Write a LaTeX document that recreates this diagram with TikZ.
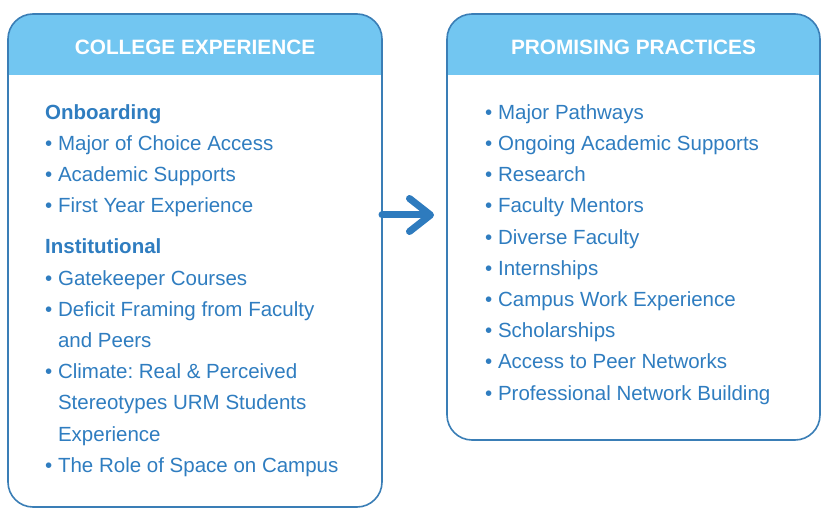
\documentclass[tikz,border=0pt]{standalone}
\usepackage{fontspec}
\setmainfont{Liberation Sans}
\usetikzlibrary{arrows.meta, positioning}

\definecolor{headblue}{HTML}{72C6F1}
\definecolor{frameblue}{HTML}{3A7EB6}
\definecolor{itemblue}{HTML}{2F7DC0}
\definecolor{arrowblue}{HTML}{2E7BBE}

% bullet and the hanging indent of wrapped lines
\newcommand{\itm}{\textbullet\ }
\newcommand{\cont}{\phantom{\textbullet\ }}
\frenchspacing

\begin{document}
\begin{tikzpicture}[
    x=1pt, y=1pt,
    panel/.style={draw=frameblue, line width=1.6pt, fill=white,
                  rounded corners=25pt, inner sep=0pt, outer sep=0pt,
                  path picture={\fill[headblue, sharp corners]
                    (path picture bounding box.north west) rectangle
                    ([yshift=-61pt]path picture bounding box.north east);}},
    headtext/.style={text=white, inner sep=0pt,
                     font=\fontsize{20.8}{24}\selectfont\bfseries},
    itemlist/.style={text=itemblue, align=left, inner sep=0pt,
                     anchor=north west, font=\fontsize{20.5}{31.2}\selectfont},
    flow/.style={draw=arrowblue, line width=7pt, line cap=round,
                 -{Straight Barb[length=21pt, width=33pt, round]}}
  ]
  \useasboundingbox (0,0) rectangle (836,-516);

  % the two panels
  \node[panel, minimum width=374pt, minimum height=493pt] (college) at (195,-260.5) {};
  \node[panel, minimum width=373pt, minimum height=426pt] (practices) at (633.5,-227) {};

  \node[headtext] (collegehead) at ([yshift=-33pt]college.north) {COLLEGE EXPERIENCE};
  \node[headtext] (practiceshead) at ([yshift=-33pt]practices.north) {PROMISING PRACTICES};

  \node[itemlist] (collegelist) at ([xshift=37pt, yshift=-90pt]college.north west) {%
    {\bfseries Onboarding}\\
    \itm Major of Choice Access\\
    \itm Academic Supports\\
    \itm First Year Experience\\[10pt]
    {\bfseries Institutional}\\
    \itm Gatekeeper Courses\\
    \itm Deficit Framing from Faculty\\
    \cont and Peers\\
    \itm Climate: Real \& Perceived\\
    \cont Stereotypes URM Students\\
    \cont Experience\\
    \itm The Role of Space on Campus};

  \node[itemlist] (practiceslist) at ([xshift=38pt, yshift=-90.3pt]practices.north west) {%
    \itm Major Pathways\\
    \itm Ongoing Academic Supports\\
    \itm Research\\
    \itm Faculty Mentors\\
    \itm Diverse Faculty\\
    \itm Internships\\
    \itm Campus Work Experience\\
    \itm Scholarships\\
    \itm Access to Peer Networks\\
    \itm Professional Network Building};

  % arrow between the panels
  \coordinate (flowstart) at ([yshift=45.5pt]college.east);
  \draw[flow, shorten >=13pt] (flowstart) -- (flowstart -| practices.west);
\end{tikzpicture}
\end{document}
